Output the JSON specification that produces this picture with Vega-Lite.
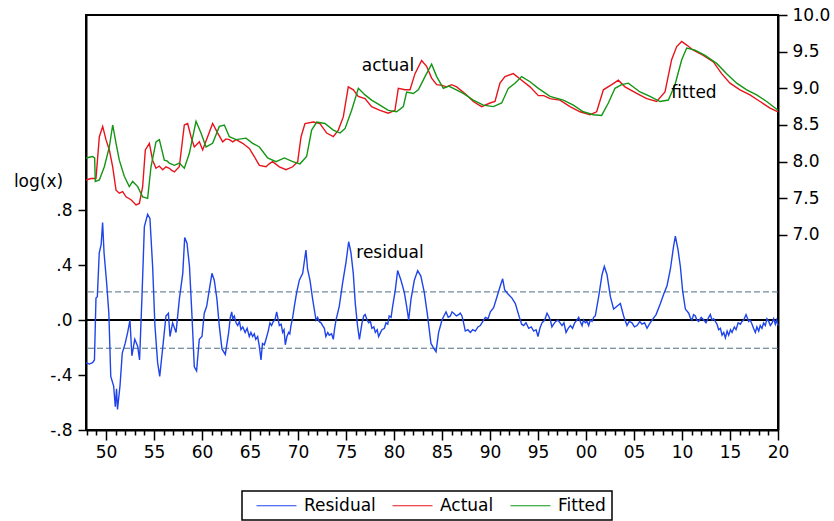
{
  "$schema": "https://vega.github.io/schema/vega-lite/v6.json",
  "width": 692,
  "height": 415,
  "autosize": "none",
  "padding": {"left": 86, "top": 15, "right": 56, "bottom": 91},
  "background": "white",
  "config": {
    "font": "DejaVu Sans",
    "view": {"stroke": "black", "strokeWidth": 2},
    "axis": {
      "domainColor": "black", "domainWidth": 2, "tickColor": "black", "tickWidth": 1.5,
      "labelColor": "black", "labelFont": "DejaVu Sans", "labelFontSize": 17, "grid": false
    },
    "legend": {
      "orient": "none", "legendX": 156, "legendY": 476, "direction": "horizontal",
      "symbolType": "M0,0H8", "symbolSize": 100, "symbolStrokeWidth": 1.2,
      "labelOffset": 39, "columnPadding": 8, "padding": 6,
      "strokeColor": "black", "strokeWidth": 1.5,
      "labelFont": "DejaVu Sans", "labelFontSize": 17, "labelColor": "black"
    }
  },
  "datasets": {
    "residual": [
      {"t":1947.92,"v":-0.31},{"t":1948.26,"v":-0.32},{"t":1948.6,"v":-0.31},{"t":1948.8,"v":-0.29},
      {"t":1948.96,"v":0.16},{"t":1949.1,"v":0.17},{"t":1949.3,"v":0.49},{"t":1949.5,"v":0.55},
      {"t":1949.65,"v":0.71},{"t":1949.8,"v":0.49},{"t":1950.07,"v":0.27},{"t":1950.3,"v":0.05},
      {"t":1950.5,"v":-0.41},{"t":1950.8,"v":-0.48},{"t":1950.97,"v":-0.63},{"t":1951.1,"v":-0.5},
      {"t":1951.2,"v":-0.65},{"t":1951.46,"v":-0.48},{"t":1951.7,"v":-0.24},{"t":1952.0,"v":-0.17},
      {"t":1952.26,"v":-0.09},{"t":1952.5,"v":0.0},{"t":1952.7,"v":-0.26},{"t":1953.0,"v":-0.14},
      {"t":1953.3,"v":-0.19},{"t":1953.5,"v":-0.29},{"t":1953.75,"v":0.17},{"t":1954.0,"v":0.68},
      {"t":1954.34,"v":0.77},{"t":1954.58,"v":0.74},{"t":1954.86,"v":0.39},{"t":1955.1,"v":-0.04},
      {"t":1955.38,"v":-0.31},{"t":1955.6,"v":-0.41},{"t":1955.9,"v":-0.21},{"t":1956.25,"v":0.03},
      {"t":1956.5,"v":0.05},{"t":1956.67,"v":-0.12},{"t":1956.94,"v":-0.02},{"t":1957.3,"v":-0.09},
      {"t":1957.64,"v":0.15},{"t":1958.0,"v":0.34},{"t":1958.2,"v":0.6},{"t":1958.44,"v":0.56},
      {"t":1958.7,"v":0.39},{"t":1958.96,"v":0.03},{"t":1959.2,"v":-0.34},{"t":1959.44,"v":-0.37},
      {"t":1959.72,"v":-0.14},{"t":1960.0,"v":-0.12},{"t":1960.24,"v":0.05},{"t":1960.49,"v":0.1},
      {"t":1960.76,"v":0.22},{"t":1961.04,"v":0.34},{"t":1961.28,"v":0.29},{"t":1961.56,"v":0.15},
      {"t":1961.8,"v":-0.04},{"t":1962.08,"v":-0.21},{"t":1962.43,"v":-0.25},{"t":1962.78,"v":-0.09},
      {"t":1962.95,"v":0.02},{"t":1963.1,"v":0.06},{"t":1963.2,"v":0.01},{"t":1963.37,"v":0.03},
      {"t":1963.55,"v":-0.02},{"t":1963.72,"v":-0.04},{"t":1963.9,"v":-0.01},{"t":1964.06,"v":-0.07},
      {"t":1964.25,"v":-0.05},{"t":1964.5,"v":-0.09},{"t":1964.7,"v":-0.06},{"t":1964.93,"v":-0.12},
      {"t":1965.1,"v":-0.09},{"t":1965.28,"v":-0.12},{"t":1965.45,"v":-0.1},{"t":1965.6,"v":-0.14},
      {"t":1965.8,"v":-0.12},{"t":1965.97,"v":-0.19},{"t":1966.15,"v":-0.29},{"t":1966.3,"v":-0.17},
      {"t":1966.5,"v":-0.18},{"t":1966.67,"v":-0.14},{"t":1966.9,"v":-0.08},{"t":1967.08,"v":-0.02},
      {"t":1967.25,"v":-0.04},{"t":1967.43,"v":-0.01},{"t":1967.6,"v":0.0},{"t":1967.78,"v":0.06},
      {"t":1967.92,"v":0.01},{"t":1968.06,"v":-0.04},{"t":1968.25,"v":-0.03},{"t":1968.4,"v":-0.09},
      {"t":1968.55,"v":-0.07},{"t":1968.68,"v":-0.18},{"t":1968.85,"v":-0.12},{"t":1969.03,"v":-0.09},
      {"t":1969.15,"v":-0.1},{"t":1969.27,"v":-0.04},{"t":1969.45,"v":0.02},{"t":1969.62,"v":0.1},
      {"t":1969.86,"v":0.2},{"t":1970.14,"v":0.29},{"t":1970.49,"v":0.34},
      {"t":1970.83,"v":0.51},{"t":1971.0,"v":0.37},{"t":1971.25,"v":0.29},{"t":1971.53,"v":0.15},
      {"t":1971.88,"v":0.0},{"t":1972.05,"v":0.02},{"t":1972.2,"v":-0.01},{"t":1972.4,"v":-0.02},
      {"t":1972.57,"v":-0.04},{"t":1972.75,"v":-0.06},{"t":1972.9,"v":-0.12},{"t":1973.1,"v":-0.09},
      {"t":1973.26,"v":-0.11},{"t":1973.5,"v":-0.1},{"t":1973.68,"v":-0.14},{"t":1973.8,"v":-0.07},
      {"t":1973.96,"v":0.0},{"t":1974.3,"v":0.1},
      {"t":1974.65,"v":0.27},{"t":1975.0,"v":0.42},{"t":1975.28,"v":0.57},{"t":1975.52,"v":0.49},
      {"t":1975.76,"v":0.34},{"t":1975.97,"v":0.12},{"t":1976.2,"v":-0.04},{"t":1976.4,"v":-0.14},
      {"t":1976.67,"v":-0.02},{"t":1976.85,"v":0.03},{"t":1977.0,"v":0.04},{"t":1977.2,"v":0.0},
      {"t":1977.36,"v":-0.02},{"t":1977.55,"v":-0.01},{"t":1977.7,"v":-0.06},{"t":1977.9,"v":-0.05},
      {"t":1978.06,"v":-0.09},{"t":1978.25,"v":-0.07},{"t":1978.4,"v":-0.12},{"t":1978.6,"v":-0.09},
      {"t":1978.75,"v":-0.07},{"t":1979.0,"v":-0.06},{"t":1979.17,"v":-0.02},{"t":1979.35,"v":-0.03},
      {"t":1979.5,"v":0.03},{"t":1979.7,"v":0.02},{"t":1979.86,"v":0.1},{"t":1980.14,"v":0.22},
      {"t":1980.38,"v":0.36},
      {"t":1980.73,"v":0.29},{"t":1981.08,"v":0.2},{"t":1981.32,"v":0.1},{"t":1981.53,"v":0.0},
      {"t":1981.77,"v":0.15},{"t":1982.12,"v":0.29},{"t":1982.47,"v":0.36},{"t":1982.8,"v":0.32},
      {"t":1983.16,"v":0.2},{"t":1983.5,"v":0.03},{"t":1983.85,"v":-0.17},{"t":1984.1,"v":-0.2},
      {"t":1984.38,"v":-0.23},{"t":1984.65,"v":-0.09},{"t":1985.0,"v":0.0},{"t":1985.2,"v":0.03},
      {"t":1985.42,"v":0.06},{"t":1985.65,"v":0.02},{"t":1985.87,"v":0.03},{"t":1986.05,"v":0.06},
      {"t":1986.22,"v":0.05},{"t":1986.5,"v":0.03},{"t":1986.74,"v":0.04},{"t":1986.9,"v":0.05},
      {"t":1987.08,"v":0.03},{"t":1987.25,"v":-0.02},{"t":1987.43,"v":-0.08},{"t":1987.7,"v":-0.07},
      {"t":1987.95,"v":-0.09},{"t":1988.2,"v":-0.07},{"t":1988.47,"v":-0.08},{"t":1988.75,"v":-0.05},
      {"t":1988.99,"v":-0.04},{"t":1989.25,"v":-0.01},{"t":1989.52,"v":0.02},{"t":1989.8,"v":0.01},
      {"t":1990.04,"v":0.06},{"t":1990.38,"v":0.09},{"t":1990.73,"v":0.17},
      {"t":1991.08,"v":0.25},{"t":1991.32,"v":0.3},{"t":1991.53,"v":0.22},{"t":1991.88,"v":0.19},
      {"t":1992.29,"v":0.16},{"t":1992.64,"v":0.12},{"t":1993.06,"v":0.02},{"t":1993.3,"v":-0.03},
      {"t":1993.51,"v":-0.04},{"t":1993.75,"v":-0.02},{"t":1994.03,"v":-0.06},{"t":1994.3,"v":-0.05},
      {"t":1994.55,"v":-0.08},{"t":1994.8,"v":-0.07},{"t":1995.0,"v":-0.12},{"t":1995.2,"v":-0.06},
      {"t":1995.42,"v":-0.02},{"t":1995.7,"v":0.0},{"t":1995.94,"v":0.05},{"t":1996.1,"v":0.03},
      {"t":1996.29,"v":0.0},{"t":1996.45,"v":-0.05},{"t":1996.63,"v":-0.03},{"t":1996.85,"v":-0.01},
      {"t":1997.08,"v":0.0},{"t":1997.3,"v":-0.02},{"t":1997.5,"v":-0.04},{"t":1997.7,"v":-0.02},
      {"t":1997.92,"v":-0.09},{"t":1998.15,"v":-0.06},{"t":1998.37,"v":-0.04},{"t":1998.6,"v":-0.06},
      {"t":1998.82,"v":-0.02},{"t":1999.05,"v":0.0},{"t":1999.24,"v":0.02},{"t":1999.4,"v":-0.01},
      {"t":1999.59,"v":-0.04},{"t":1999.75,"v":0.0},{"t":1999.93,"v":-0.02},{"t":2000.1,"v":-0.01},
      {"t":2000.28,"v":-0.04},{"t":2000.45,"v":0.0},{"t":2000.63,"v":-0.01},{"t":2000.8,"v":0.02},
      {"t":2000.97,"v":0.03},{"t":2001.32,"v":0.17},{"t":2001.67,"v":0.33},
      {"t":2001.91,"v":0.39},{"t":2002.19,"v":0.33},{"t":2002.54,"v":0.17},{"t":2002.88,"v":0.08},
      {"t":2003.23,"v":0.1},{"t":2003.58,"v":0.12},{"t":2003.92,"v":0.03},{"t":2004.27,"v":-0.04},
      {"t":2004.5,"v":-0.01},{"t":2004.79,"v":-0.02},{"t":2005.05,"v":-0.05},{"t":2005.32,"v":-0.04},
      {"t":2005.6,"v":-0.01},{"t":2005.83,"v":-0.03},{"t":2006.1,"v":-0.02},{"t":2006.36,"v":-0.06},
      {"t":2006.6,"v":-0.03},{"t":2006.88,"v":0.0},{"t":2007.3,"v":0.04},{"t":2007.75,"v":0.12},
      {"t":2008.1,"v":0.19},
      {"t":2008.44,"v":0.25},{"t":2008.79,"v":0.37},{"t":2009.13,"v":0.54},{"t":2009.31,"v":0.61},
      {"t":2009.59,"v":0.51},{"t":2009.83,"v":0.39},{"t":2010.07,"v":0.21},{"t":2010.35,"v":0.08},
      {"t":2010.7,"v":0.05},{"t":2010.85,"v":0.02},{"t":2011.04,"v":0.0},{"t":2011.2,"v":0.04},
      {"t":2011.39,"v":0.03},{"t":2011.55,"v":0.0},{"t":2011.74,"v":-0.01},{"t":2012.0,"v":0.02},
      {"t":2012.26,"v":0.0},{"t":2012.5,"v":-0.02},{"t":2012.78,"v":0.02},{"t":2012.95,"v":0.04},
      {"t":2013.13,"v":0.0},{"t":2013.3,"v":0.01},{"t":2013.47,"v":-0.01},{"t":2013.65,"v":-0.03},
      {"t":2013.82,"v":-0.07},{"t":2014.0,"v":-0.06},{"t":2014.17,"v":-0.11},{"t":2014.35,"v":-0.09},
      {"t":2014.52,"v":-0.13},{"t":2014.7,"v":-0.08},{"t":2014.86,"v":-0.11},{"t":2015.05,"v":-0.07},
      {"t":2015.21,"v":-0.09},{"t":2015.45,"v":-0.05},{"t":2015.63,"v":-0.07},{"t":2015.85,"v":-0.02},
      {"t":2016.08,"v":-0.03},{"t":2016.25,"v":-0.01},{"t":2016.43,"v":0.0},{"t":2016.67,"v":0.04},
      {"t":2016.95,"v":-0.01},{"t":2017.1,"v":0.0},{"t":2017.3,"v":-0.03},{"t":2017.45,"v":-0.06},
      {"t":2017.64,"v":-0.09},{"t":2017.8,"v":-0.05},{"t":2017.99,"v":-0.08},{"t":2018.15,"v":-0.04},
      {"t":2018.33,"v":-0.06},{"t":2018.5,"v":-0.02},{"t":2018.68,"v":-0.04},{"t":2018.85,"v":0.01},
      {"t":2019.03,"v":-0.01},{"t":2019.2,"v":-0.04},{"t":2019.38,"v":-0.02},{"t":2019.55,"v":0.01},
      {"t":2019.72,"v":-0.03},{"t":2019.85,"v":0.0},{"t":2020.0,"v":-0.04}
    ],
    "fit": [
      {"t":1947.92,"s":"Actual","v":7.75},{"t":1948.44,"s":"Actual","v":7.77},{"t":1948.96,"s":"Actual","v":7.77},
      {"t":1949.31,"s":"Actual","v":8.34},{"t":1949.66,"s":"Actual","v":8.48},{"t":1950.0,"s":"Actual","v":8.3},
      {"t":1950.35,"s":"Actual","v":8.16},{"t":1950.7,"s":"Actual","v":7.93},{"t":1951.05,"s":"Actual","v":7.61},
      {"t":1951.39,"s":"Actual","v":7.57},{"t":1951.74,"s":"Actual","v":7.59},{"t":1952.09,"s":"Actual","v":7.52},
      {"t":1952.61,"s":"Actual","v":7.48},{"t":1953.13,"s":"Actual","v":7.41},{"t":1953.48,"s":"Actual","v":7.43},
      {"t":1953.82,"s":"Actual","v":7.66},{"t":1954.1,"s":"Actual","v":8.16},{"t":1954.52,"s":"Actual","v":8.25},
      {"t":1954.86,"s":"Actual","v":8.02},{"t":1955.21,"s":"Actual","v":7.91},{"t":1955.55,"s":"Actual","v":7.94},{"t":1955.91,"s":"Actual","v":7.89},
      {"t":1956.25,"s":"Actual","v":7.93},{"t":1956.6,"s":"Actual","v":7.91},{"t":1956.85,"s":"Actual","v":7.88},{"t":1957.12,"s":"Actual","v":7.86},{"t":1957.64,"s":"Actual","v":7.93},
      {"t":1958.16,"s":"Actual","v":8.5},{"t":1958.51,"s":"Actual","v":8.52},{"t":1958.86,"s":"Actual","v":8.34},
      {"t":1959.2,"s":"Actual","v":8.2},{"t":1959.73,"s":"Actual","v":8.27},{"t":1960.07,"s":"Actual","v":8.16},
      {"t":1960.59,"s":"Actual","v":8.34},{"t":1961.11,"s":"Actual","v":8.52},{"t":1961.64,"s":"Actual","v":8.39},
      {"t":1962.16,"s":"Actual","v":8.27},{"t":1962.5,"s":"Actual","v":8.31},{"t":1962.85,"s":"Actual","v":8.3},{"t":1963.2,"s":"Actual","v":8.27},{"t":1963.55,"s":"Actual","v":8.3},
      {"t":1964.24,"s":"Actual","v":8.25},{"t":1964.93,"s":"Actual","v":8.18},{"t":1965.45,"s":"Actual","v":8.07},
      {"t":1965.98,"s":"Actual","v":7.95},{"t":1966.67,"s":"Actual","v":7.93},{"t":1967.0,"s":"Actual","v":7.97},{"t":1967.36,"s":"Actual","v":8.0},
      {"t":1968.06,"s":"Actual","v":7.93},{"t":1968.75,"s":"Actual","v":7.89},{"t":1969.45,"s":"Actual","v":7.93},
      {"t":1969.97,"s":"Actual","v":8.0},{"t":1970.32,"s":"Actual","v":8.34},{"t":1970.73,"s":"Actual","v":8.52},
      {"t":1971.6,"s":"Actual","v":8.54},{"t":1972.29,"s":"Actual","v":8.52},{"t":1972.99,"s":"Actual","v":8.39},
      {"t":1973.68,"s":"Actual","v":8.34},{"t":1974.2,"s":"Actual","v":8.43},{"t":1974.72,"s":"Actual","v":8.61},
      {"t":1975.24,"s":"Actual","v":9.02},{"t":1975.77,"s":"Actual","v":8.98},{"t":1976.28,"s":"Actual","v":8.89},
      {"t":1976.98,"s":"Actual","v":8.86},{"t":1977.67,"s":"Actual","v":8.75},{"t":1978.54,"s":"Actual","v":8.7},
      {"t":1979.41,"s":"Actual","v":8.66},{"t":1980.1,"s":"Actual","v":8.7},{"t":1980.45,"s":"Actual","v":9.0},
      {"t":1981.15,"s":"Actual","v":8.98},{"t":1981.67,"s":"Actual","v":8.98},{"t":1982.19,"s":"Actual","v":9.2},
      {"t":1982.88,"s":"Actual","v":9.38},{"t":1983.4,"s":"Actual","v":9.3},{"t":1983.92,"s":"Actual","v":9.14},
      {"t":1984.45,"s":"Actual","v":9.05},{"t":1985.0,"s":"Actual","v":9.04},{"t":1985.49,"s":"Actual","v":9.02},{"t":1986.0,"s":"Actual","v":9.05},{"t":1986.53,"s":"Actual","v":9.02},
      {"t":1987.57,"s":"Actual","v":8.91},{"t":1988.26,"s":"Actual","v":8.82},{"t":1989.13,"s":"Actual","v":8.75},
      {"t":1990.0,"s":"Actual","v":8.8},{"t":1990.52,"s":"Actual","v":8.82},{"t":1991.04,"s":"Actual","v":9.07},
      {"t":1991.56,"s":"Actual","v":9.16},{"t":1992.43,"s":"Actual","v":9.2},{"t":1993.3,"s":"Actual","v":9.11},
      {"t":1994.17,"s":"Actual","v":9.02},{"t":1995.04,"s":"Actual","v":8.9},{"t":1995.6,"s":"Actual","v":8.9},{"t":1996.25,"s":"Actual","v":8.86},
      {"t":1997.29,"s":"Actual","v":8.84},{"t":1998.33,"s":"Actual","v":8.75},{"t":1999.38,"s":"Actual","v":8.68},
      {"t":2000.42,"s":"Actual","v":8.64},{"t":2001.11,"s":"Actual","v":8.68},{"t":2001.81,"s":"Actual","v":8.98},
      {"t":2002.68,"s":"Actual","v":9.05},{"t":2003.37,"s":"Actual","v":9.11},{"t":2004.06,"s":"Actual","v":9.02},
      {"t":2005.28,"s":"Actual","v":8.93},{"t":2006.32,"s":"Actual","v":8.86},{"t":2007.36,"s":"Actual","v":8.82},
      {"t":2008.23,"s":"Actual","v":8.95},{"t":2008.92,"s":"Actual","v":9.39},{"t":2009.45,"s":"Actual","v":9.57},
      {"t":2009.97,"s":"Actual","v":9.64},{"t":2010.49,"s":"Actual","v":9.59},{"t":2011.18,"s":"Actual","v":9.52},
      {"t":2012.22,"s":"Actual","v":9.45},{"t":2013.27,"s":"Actual","v":9.36},{"t":2014.13,"s":"Actual","v":9.2},
      {"t":2015.0,"s":"Actual","v":9.07},{"t":2016.04,"s":"Actual","v":8.98},{"t":2017.08,"s":"Actual","v":8.91},
      {"t":2018.13,"s":"Actual","v":8.82},{"t":2019.17,"s":"Actual","v":8.73},{"t":2020.0,"s":"Actual","v":8.68},

      {"t":1947.92,"s":"Fitted","v":8.05},{"t":1948.61,"s":"Fitted","v":8.07},{"t":1948.82,"s":"Fitted","v":8.05},
      {"t":1948.89,"s":"Fitted","v":7.73},{"t":1949.31,"s":"Fitted","v":7.75},{"t":1949.83,"s":"Fitted","v":7.93},
      {"t":1950.35,"s":"Fitted","v":8.2},{"t":1950.7,"s":"Fitted","v":8.5},{"t":1951.05,"s":"Fitted","v":8.25},
      {"t":1951.39,"s":"Fitted","v":8.02},{"t":1951.91,"s":"Fitted","v":7.8},{"t":1952.43,"s":"Fitted","v":7.66},
      {"t":1952.78,"s":"Fitted","v":7.73},{"t":1953.3,"s":"Fitted","v":7.66},{"t":1953.82,"s":"Fitted","v":7.52},
      {"t":1954.34,"s":"Fitted","v":7.5},{"t":1954.69,"s":"Fitted","v":7.93},{"t":1955.21,"s":"Fitted","v":8.27},
      {"t":1955.56,"s":"Fitted","v":8.3},{"t":1956.08,"s":"Fitted","v":8.02},{"t":1956.35,"s":"Fitted","v":8.01},{"t":1956.6,"s":"Fitted","v":7.98},
      {"t":1957.12,"s":"Fitted","v":7.95},{"t":1957.64,"s":"Fitted","v":7.98},{"t":1958.16,"s":"Fitted","v":7.91},
      {"t":1958.68,"s":"Fitted","v":8.11},{"t":1959.38,"s":"Fitted","v":8.55},{"t":1959.9,"s":"Fitted","v":8.39},
      {"t":1960.42,"s":"Fitted","v":8.2},{"t":1961.11,"s":"Fitted","v":8.25},{"t":1961.81,"s":"Fitted","v":8.48},
      {"t":1962.33,"s":"Fitted","v":8.5},{"t":1962.85,"s":"Fitted","v":8.34},{"t":1963.55,"s":"Fitted","v":8.3},
      {"t":1964.59,"s":"Fitted","v":8.32},{"t":1965.28,"s":"Fitted","v":8.25},{"t":1965.98,"s":"Fitted","v":8.2},
      {"t":1966.84,"s":"Fitted","v":8.05},{"t":1967.71,"s":"Fitted","v":8.0},{"t":1968.58,"s":"Fitted","v":8.05},
      {"t":1969.45,"s":"Fitted","v":8.0},{"t":1970.21,"s":"Fitted","v":7.97},{"t":1970.9,"s":"Fitted","v":8.07},
      {"t":1971.42,"s":"Fitted","v":8.43},{"t":1971.95,"s":"Fitted","v":8.54},{"t":1972.81,"s":"Fitted","v":8.52},
      {"t":1973.68,"s":"Fitted","v":8.43},{"t":1974.38,"s":"Fitted","v":8.39},{"t":1974.9,"s":"Fitted","v":8.45},
      {"t":1975.59,"s":"Fitted","v":8.7},{"t":1976.29,"s":"Fitted","v":9.0},{"t":1976.98,"s":"Fitted","v":8.91},
      {"t":1977.67,"s":"Fitted","v":8.84},{"t":1978.54,"s":"Fitted","v":8.77},{"t":1979.41,"s":"Fitted","v":8.7},
      {"t":1980.28,"s":"Fitted","v":8.68},{"t":1980.97,"s":"Fitted","v":8.75},{"t":1981.32,"s":"Fitted","v":8.95},
      {"t":1982.01,"s":"Fitted","v":8.93},{"t":1982.54,"s":"Fitted","v":8.98},{"t":1983.23,"s":"Fitted","v":9.16},
      {"t":1983.92,"s":"Fitted","v":9.33},{"t":1984.45,"s":"Fitted","v":9.16},{"t":1985.14,"s":"Fitted","v":9.0},
      {"t":1985.7,"s":"Fitted","v":9.03},{"t":1986.18,"s":"Fitted","v":9.0},{"t":1987.22,"s":"Fitted","v":8.93},{"t":1988.26,"s":"Fitted","v":8.84},
      {"t":1989.31,"s":"Fitted","v":8.77},{"t":1990.35,"s":"Fitted","v":8.75},{"t":1991.22,"s":"Fitted","v":8.8},
      {"t":1991.91,"s":"Fitted","v":9.0},{"t":1992.6,"s":"Fitted","v":9.07},{"t":1993.3,"s":"Fitted","v":9.16},
      {"t":1994.17,"s":"Fitted","v":9.09},{"t":1995.04,"s":"Fitted","v":9.0},{"t":1996.25,"s":"Fitted","v":8.89},
      {"t":1997.64,"s":"Fitted","v":8.84},{"t":1998.68,"s":"Fitted","v":8.77},{"t":1999.72,"s":"Fitted","v":8.68},
      {"t":2000.77,"s":"Fitted","v":8.64},{"t":2001.63,"s":"Fitted","v":8.63},{"t":2002.33,"s":"Fitted","v":8.8},
      {"t":2003.02,"s":"Fitted","v":9.0},{"t":2003.72,"s":"Fitted","v":9.05},{"t":2004.41,"s":"Fitted","v":9.07},
      {"t":2005.63,"s":"Fitted","v":8.95},{"t":2006.67,"s":"Fitted","v":8.89},{"t":2007.71,"s":"Fitted","v":8.82},
      {"t":2008.58,"s":"Fitted","v":8.84},{"t":2009.27,"s":"Fitted","v":9.05},{"t":2009.97,"s":"Fitted","v":9.39},
      {"t":2010.49,"s":"Fitted","v":9.55},{"t":2011.36,"s":"Fitted","v":9.52},{"t":2012.4,"s":"Fitted","v":9.45},
      {"t":2013.61,"s":"Fitted","v":9.34},{"t":2014.65,"s":"Fitted","v":9.2},{"t":2015.7,"s":"Fitted","v":9.07},
      {"t":2016.74,"s":"Fitted","v":8.98},{"t":2017.78,"s":"Fitted","v":8.91},{"t":2018.82,"s":"Fitted","v":8.82},
      {"t":2020.0,"s":"Fitted","v":8.7}
    ],
    "bands": [{"v": 0.205}, {"v": -0.205}],
    "zero": [{"v": 0}],
    "notes": [{"label": "residual", "t": 1979.58, "v": 0.49}],
    "fitnotes": [
      {"label": "actual", "t": 1979.38, "v": 9.3},
      {"label": "fitted", "t": 2011.25, "v": 8.93}
    ]
  },
  "layer": [
    {
      "encoding": {
        "y": {
          "field": "v", "type": "quantitative",
          "scale": {"domain": [-0.8, 2.22], "nice": false, "zero": false},
          "axis": {
            "orient": "left",
            "values": [-0.8, -0.4, 0, 0.4, 0.8],
            "labelExpr": "(datum.value < 0 ? '-' : '') + replace(format(abs(datum.value), '.1f'), '0.', '.')",
            "tickSize": 8,
            "labelPadding": 6,
            "title": "log(x)",
            "titleAngle": 0,
            "titleAlign": "center",
            "titleBaseline": "middle",
            "titleX": -48,
            "titleY": 166,
            "titleFont": "DejaVu Sans",
            "titleFontSize": 17,
            "titleFontWeight": "normal",
            "titleColor": "black"
          }
        }
      },
      "layer": [
        {
          "data": {"name": "bands"},
          "mark": {"type": "rule", "color": "#4f7282", "strokeWidth": 1, "strokeDash": [6, 3]},
          "encoding": {}
        },
        {
          "data": {"name": "zero"},
          "mark": {"type": "rule", "color": "black", "strokeWidth": 2},
          "encoding": {}
        },
        {
          "data": {"name": "residual"},
          "mark": {"type": "line", "strokeWidth": 1.4},
          "encoding": {
            "x": {
              "field": "t", "type": "quantitative",
              "scale": {"domain": [1947.92, 2020], "nice": false, "zero": false},
              "axis": {
                "title": null, "tickCount": 72,
                "tickSize": {"condition": {"test": "datum.value % 5 === 0", "value": 10}, "value": 5},
                "labelExpr": "datum.value % 5 === 0 ? format(datum.value % 100, '02d') : ''",
                "labelPadding": 4, "labelFlush": false, "labelOverlap": false
              }
            },
            "color": {
              "datum": "Residual",
              "type": "nominal",
              "scale": {"domain": ["Residual", "Actual", "Fitted"], "range": ["#1f45ea", "#e8141c", "#149614"]},
              "legend": {"title": null}
            }
          }
        },
        {
          "data": {"name": "notes"},
          "mark": {"type": "text", "fontSize": 17, "font": "DejaVu Sans", "color": "black", "align": "center", "baseline": "middle"},
          "encoding": {
            "x": {
              "field": "t", "type": "quantitative",
              "scale": {"domain": [1947.92, 2020], "nice": false, "zero": false},
              "axis": {
                "title": null, "tickCount": 72,
                "tickSize": {"condition": {"test": "datum.value % 5 === 0", "value": 10}, "value": 5},
                "labelExpr": "datum.value % 5 === 0 ? format(datum.value % 100, '02d') : ''",
                "labelPadding": 4, "labelFlush": false, "labelOverlap": false
              }
            },
            "text": {"field": "label"}
          }
        }
      ]
    },
    {
      "encoding": {
        "y": {
          "field": "v", "type": "quantitative",
          "scale": {"domain": [4.34, 10], "nice": false, "zero": false},
          "axis": {
            "orient": "right",
            "values": [7, 7.5, 8, 8.5, 9, 9.5, 10],
            "format": ".1f",
            "tickSize": 9,
            "labelPadding": 5,
            "title": null
          }
        }
      },
      "layer": [
        {
          "data": {"name": "fit"},
          "mark": {"type": "line", "strokeWidth": 1.4},
          "encoding": {
            "x": {
              "field": "t", "type": "quantitative",
              "scale": {"domain": [1947.92, 2020], "nice": false, "zero": false},
              "axis": {
                "title": null, "tickCount": 72,
                "tickSize": {"condition": {"test": "datum.value % 5 === 0", "value": 10}, "value": 5},
                "labelExpr": "datum.value % 5 === 0 ? format(datum.value % 100, '02d') : ''",
                "labelPadding": 4, "labelFlush": false, "labelOverlap": false
              }
            },
            "color": {"field": "s", "type": "nominal", "legend": {"title": null}}
          }
        },
        {
          "data": {"name": "fitnotes"},
          "mark": {"type": "text", "fontSize": 17, "font": "DejaVu Sans", "color": "black", "align": "center", "baseline": "middle"},
          "encoding": {
            "x": {
              "field": "t", "type": "quantitative",
              "scale": {"domain": [1947.92, 2020], "nice": false, "zero": false},
              "axis": {
                "title": null, "tickCount": 72,
                "tickSize": {"condition": {"test": "datum.value % 5 === 0", "value": 10}, "value": 5},
                "labelExpr": "datum.value % 5 === 0 ? format(datum.value % 100, '02d') : ''",
                "labelPadding": 4, "labelFlush": false, "labelOverlap": false
              }
            },
            "text": {"field": "label"}
          }
        }
      ]
    }
  ],
  "resolve": {"scale": {"y": "independent"}}
}
